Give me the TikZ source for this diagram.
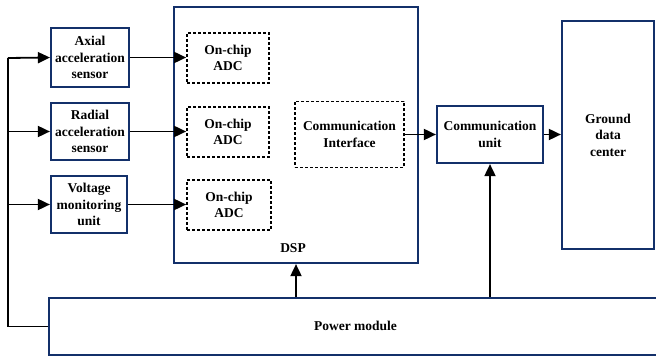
\documentclass[tikz,border=0pt]{standalone}
\usepackage{fontspec}
\setmainfont{Liberation Serif}
\usetikzlibrary{arrows.meta,calc}
\definecolor{navy}{HTML}{13306A}
\begin{document}
\begin{tikzpicture}[x=1pt,y=-1pt,
  every node/.style={font=\bfseries\fontsize{13.5}{16.5}\selectfont, align=center, inner sep=0pt},
  blk/.style={draw=navy, line width=2.2pt, rectangle},
  dbox/.style={draw=black, line width=1.7pt, dash pattern=on 3pt off 2pt, rectangle},
  arr/.style={draw=black, line width=1.8pt, -{Triangle[length=12pt,width=11pt]}},
  wire/.style={draw=black, line width=1.8pt}]
\useasboundingbox (0,0) rectangle (656,358);
\clip (0,0) rectangle (656,358);
% sensors
\node[blk, minimum width=78pt, minimum height=59pt] (ax) at (90,57.5) {Axial\\acceleration\\sensor};
\node[blk, minimum width=78pt, minimum height=57pt] (ra) at (90,131.5) {Radial\\acceleration\\sensor};
\node[blk, minimum width=76pt, minimum height=57pt] (vm) at (89,204.5) {Voltage\\monitoring\\unit};
% DSP
\node[blk, minimum width=244pt, minimum height=256pt] (dsp) at (296,135) {};
\node (dsplbl) at (293,248) {DSP};
\node[dbox, minimum width=82pt, minimum height=50pt] (adc1) at (228,58) {On-chip\\ADC};
\node[dbox, minimum width=82pt, minimum height=50pt] (adc2) at (228,132) {On-chip\\ADC};
\node[dbox, minimum width=84pt, minimum height=50pt] (adc3) at (229,205) {On-chip\\ADC};
\node[dbox, minimum width=109pt, minimum height=66pt] (ci) at (349.5,134.5) {Communication\\Interface};
% comm unit, ground
\node[blk, minimum width=106pt, minimum height=57pt] (cu) at (490,134.5) {Communication\\unit};
\node[blk, minimum width=92pt, minimum height=228pt] (gd) at (608,135) {Ground\\data\\center};
% power module
\node[blk, minimum width=625pt, minimum height=57pt] (pw) at (361.5,326.5) {};
\node (pwl) at (355.5,326) {Power module};
% bus
\coordinate (bus) at (8,58);
\draw[wire] (pw.west) -| (bus);
\draw[arr] (bus) -- (ax.west);
\draw[arr] (bus |- ra.west) -- (ra.west);
\draw[arr] (bus |- vm.west) -- (vm.west);
\draw[arr] (ax.east) -- (ax.east -| adc1.west);
\draw[arr] (ra.east) -- (ra.east -| adc2.west);
\draw[arr] (vm.east) -- (vm.east -| adc3.west);
\draw[arr] (ci.east) -- (ci.east -| cu.west);
\draw[arr] (cu.east) -- (cu.east -| gd.west);
\draw[arr] (dsp.south |- pw.north) -- (dsp.south);
\draw[arr] (cu.south |- pw.north) -- (cu.south);
\end{tikzpicture}
\end{document}
